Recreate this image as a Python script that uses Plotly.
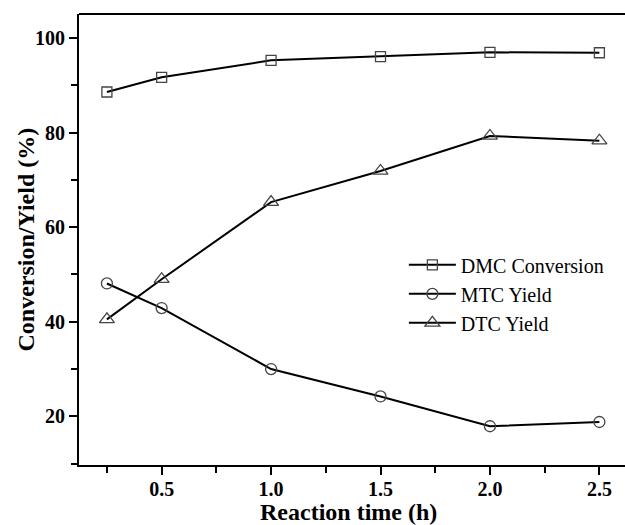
import plotly.graph_objects as go

time_h = [0.25, 0.5, 1.0, 1.5, 2.0, 2.5]
dmc_conversion = [88.6, 91.7, 95.3, 96.1, 97.0, 96.9]
mtc_yield = [48.1, 42.9, 30.0, 24.2, 17.9, 18.8]
dtc_yield = [40.5, 49.0, 65.3, 71.9, 79.3, 78.3]

series = [
    ("DMC Conversion", dmc_conversion, "square-open", 10),
    ("MTC Yield", mtc_yield, "circle-open", 11),
    ("DTC Yield", dtc_yield, "triangle-up-open", 13),
]

SERIF = "Liberation Serif, Times New Roman, serif"

fig = go.Figure()
for name, vals, sym, sz in series:
    fig.add_trace(go.Scatter(
        x=time_h, y=vals, name=name, mode="lines+markers",
        line=dict(color="black", width=2),
        marker=dict(symbol=sym, size=sz, color="#444444", line=dict(width=1.3, color="#444444")),
    ))

tickfont = dict(family=SERIF, size=20, color="black", weight="bold")
titlefont = dict(family=SERIF, size=24, color="black", weight="bold")

fig.update_layout(
    width=625, height=525,
    margin=dict(l=79, r=0, t=14, b=60),
    plot_bgcolor="white", paper_bgcolor="white",
    showlegend=True,
    legend=dict(
        x=0.595, y=0.487, xanchor="left", yanchor="top",
        font=dict(family=SERIF, size=20, color="black"),
        bgcolor="rgba(0,0,0,0)", tracegroupgap=0, itemwidth=47,
    ),
    shapes=[dict(type="line", xref="paper", yref="paper", x0=0, x1=1, y0=1, y1=1,
                 line=dict(color="black", width=2))],
    annotations=[
        dict(text="Conversion/Yield (%)", xref="paper", yref="paper",
             x=(25 - 79) / 546, y=0.5, textangle=-90, showarrow=False,
             xanchor="center", yanchor="middle", font=titlefont),
        dict(text="Reaction time (h)", xref="paper", yref="paper",
             x=(348 - 79) / 546, y=(465 - 527) / 451, showarrow=False,
             xanchor="center", yanchor="bottom", font=titlefont),
    ],
)
fig.update_xaxes(
    range=[0.1225, 2.617], showgrid=False, zeroline=False,
    showline=True, linecolor="black", linewidth=2,
    tickmode="linear", tick0=0.5, dtick=0.5,
    ticks="outside", ticklen=8, tickwidth=2, tickcolor="black",
    minor=dict(ticks="outside", ticklen=6, tickwidth=2, tickcolor="black", tick0=0.25, dtick=0.25),
    tickformat=".1f", tickfont=tickfont, ticklabelstandoff=-3,
)
fig.update_yaxes(
    range=[9.7, 105.1], showgrid=False, zeroline=False,
    showline=True, linecolor="black", linewidth=2,
    tickmode="linear", tick0=0, dtick=20,
    ticks="outside", ticklen=8, tickwidth=2, tickcolor="black",
    minor=dict(ticks="outside", ticklen=6, tickwidth=2, tickcolor="black", tick0=0, dtick=10),
    tickfont=tickfont,
)

fig.write_html("out.html")
